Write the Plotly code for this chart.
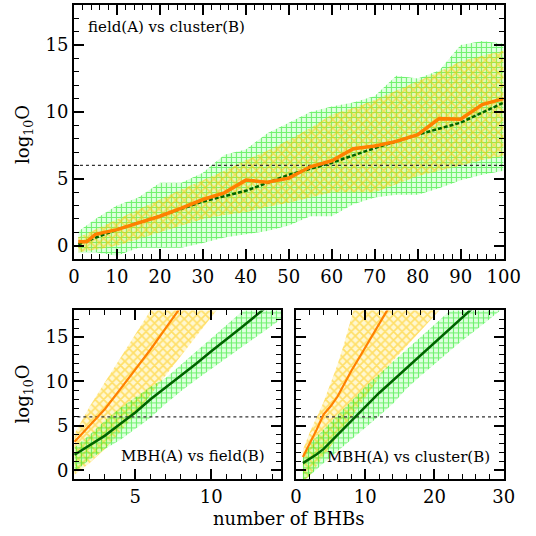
import plotly.graph_objects as go

# ---------------- data ----------------
# Top panel: field(A) vs cluster(B)
top_x = [1, 5, 10, 15, 20, 25, 30, 35, 40, 45, 50, 55, 60, 65, 70, 75, 80, 85, 90, 95, 100]
top_green_hi = [1.05, 2.0, 3.0, 3.6, 4.7, 4.7, 5.45, 6.8, 7.2, 8.4, 9.2, 10.0, 10.4, 10.7, 11.2, 12.7, 12.5, 13.1, 15.0, 15.3, 15.1]
top_green_lo = [-0.5, -0.5, -0.75, -0.15, -0.15, -0.15, 0.2, 0.6, 0.85, 1.1, 1.5, 2.2, 2.2, 3.1, 3.6, 3.8, 3.8, 4.3, 4.9, 5.3, 5.6]
top_yellow_hi = [0.6, 1.2, 2.0, 2.7, 3.5, 4.2, 4.9, 5.6, 6.4, 7.1, 7.9, 8.8, 9.8, 10.3, 10.9, 11.6, 12.3, 13.0, 13.8, 14.2, 14.6]
top_yellow_lo = [-0.5, -0.3, 0.0, 0.5, 1.0, 1.5, 2.0, 2.3, 2.5, 2.9, 3.2, 3.6, 4.0, 4.0, 4.0, 4.6, 5.2, 5.6, 6.0, 6.4, 6.7]
top_orange_x = [1, 3, 5, 10, 15, 20, 25, 30, 35, 40, 45, 50, 55, 60, 65, 70, 75, 80, 85, 90, 95, 100]
top_orange = [0.3, 0.3, 0.85, 1.2, 1.7, 2.2, 2.8, 3.45, 3.95, 4.9, 4.75, 5.05, 5.9, 6.35, 7.25, 7.45, 7.8, 8.3, 9.5, 9.45, 10.55, 11.0]
top_dkgreen_x = [1, 10, 20, 30, 40, 50, 60, 70, 80, 90, 100]
top_dkgreen = [0.1, 1.2, 2.2, 3.3, 4.1, 5.3, 6.2, 7.3, 8.3, 9.2, 10.7]

# Bottom-left: MBH(A) vs field(B)
bl_x = [1, 2, 3, 4, 5, 6, 7, 8, 9, 10, 11, 12, 13, 14, 15]
bl_orange = [3.2, 5.0, 6.9, 9.1, 11.3, 13.6, 16.0, 18.4, 20.8, 23.2, 25.6, 28.0, 30.4, 32.8, 35.2]
bl_yellow_hi = [4.1, 7.2, 9.9, 12.6, 15.2, 18.0, 20.7, 23.4, 26.1, 28.8, 31.5, 34.2, 36.9, 39.6, 42.3]
bl_yellow_lo = [-0.5, 0.8, 2.4, 4.3, 6.3, 8.4, 10.6, 12.8, 15.0, 17.2, 19.4, 21.6, 23.8, 26.0, 28.2]
bl_dkgreen = [1.75, 2.8, 3.9, 5.2, 6.5, 8.0, 9.3, 10.6, 12.0, 13.4, 14.7, 16.1, 17.5, 18.9, 20.3]
bl_green_hi = [2.6, 4.0, 5.6, 7.0, 8.2, 9.4, 10.4, 11.9, 13.4, 14.9, 16.3, 17.8, 19.3, 20.8, 22.3]
bl_green_lo = [-0.2, 1.2, 2.4, 3.4, 4.6, 5.9, 7.5, 8.9, 10.2, 11.5, 12.7, 13.9, 15.1, 16.3, 17.5]

# Bottom-right: MBH(A) vs cluster(B)
br_orange_x = [1, 2, 3, 4, 5, 6, 7, 8, 9, 10, 11, 12, 13, 14]
br_orange = [1.5, 3.0, 4.6, 6.3, 7.2, 8.3, 9.8, 11.2, 12.5, 13.8, 15.2, 16.5, 17.8, 19.1]
br_yellow_hi_x = [1, 2, 3, 4, 5, 6, 7, 8, 9]
br_yellow_hi = [2.3, 4.3, 6.0, 7.7, 9.8, 11.9, 14.4, 17.2, 20.0]
br_yellow_lo_x = [1, 2, 4, 6, 8, 10, 12, 14, 16, 18, 20, 22]
br_yellow_lo = [-1.3, -0.6, 1.7, 3.9, 6.0, 8.2, 10.4, 12.3, 14.0, 15.7, 17.4, 19.1]
br_dkgreen_x = [1, 2, 3, 4, 5, 6, 7, 8, 9, 10, 11, 12, 13, 14, 15, 16, 17, 18, 19, 20, 21, 22, 23, 24, 25, 26]
br_dkgreen = [0.8, 1.3, 1.8, 2.4, 3.2, 4.0, 4.8, 5.6, 6.4, 7.1, 7.9, 8.7, 9.4, 10.1, 10.9, 11.6, 12.3, 13.0, 13.7, 14.4, 15.1, 15.8, 16.5, 17.2, 17.9, 18.6]
br_green_x = [1, 2, 4, 6, 8, 10, 12, 14, 16, 18, 20, 22, 24, 26, 28, 30]
br_green_hi = [1.6, 3.0, 4.6, 6.2, 7.8, 9.4, 10.8, 12.2, 13.6, 15.0, 16.4, 17.8, 19.2, 20.6, 22.0, 23.4]
br_green_lo = [-1.2, -0.6, 0.8, 2.1, 3.4, 4.8, 6.1, 7.5, 9.2, 10.6, 12.0, 13.3, 14.6, 15.8, 17.0, 18.3]

threshold = 6

# ---------------- styles ----------------
GREEN = "#00e600"
GREEN_BG = "rgba(0,255,0,0.12)"
YELLOW = "#ffc800"
YELLOW_BG = "rgba(255,210,0,0.18)"
ORANGE = "#ff8000"
DKGREEN = "#006400"
FONT = "DejaVu Serif"

fig = go.Figure()


def band(x, hi, lo, color, bg, shape, xa, ya, size=5, sol=0.35, xlo=None):
    if xlo is None:
        xlo = x
    fig.add_trace(go.Scatter(
        x=list(x) + list(xlo)[::-1], y=list(hi) + list(lo)[::-1],
        fill="toself", mode="lines", line=dict(width=0, color="rgba(0,0,0,0)"),
        fillcolor="rgba(0,0,0,0)",
        fillpattern=dict(shape=shape, fgcolor=color, bgcolor=bg,
                         size=size, solidity=sol, fillmode="overlay"),
        xaxis=xa, yaxis=ya, hoverinfo="skip", showlegend=False))


def line(x, y, color, width, xa, ya, dash="solid"):
    fig.add_trace(go.Scatter(x=x, y=y, mode="lines", line=dict(color=color, width=width, dash=dash),
                             xaxis=xa, yaxis=ya, showlegend=False))


# top panel
band(top_x, top_green_hi, top_green_lo, GREEN, GREEN_BG, "+", "x", "y", size=5, sol=0.4)
band(top_x, top_yellow_hi, top_yellow_lo, YELLOW, YELLOW_BG, "x", "x", "y", size=6, sol=0.45)
line([0, 100], [threshold, threshold], "#333333", 1.3, "x", "y", dash="dot")
line(top_dkgreen_x, top_dkgreen, DKGREEN, 2.5, "x", "y", dash="4px,2px")
line(top_orange_x, top_orange, ORANGE, 3.5, "x", "y")

# bottom-left
band(bl_x, bl_yellow_hi, bl_yellow_lo, YELLOW, YELLOW_BG, "x", "x2", "y2", size=6, sol=0.5)
band(bl_x, bl_green_hi, bl_green_lo, GREEN, GREEN_BG, "+", "x2", "y2", size=5, sol=0.4)
line([0, 15], [threshold, threshold], "#333333", 1.3, "x2", "y2", dash="dot")
line(bl_x, bl_orange, ORANGE, 2.2, "x2", "y2")
line(bl_x, bl_dkgreen, DKGREEN, 2.5, "x2", "y2")

# bottom-right
band(br_yellow_hi_x, br_yellow_hi, br_yellow_lo, YELLOW, YELLOW_BG, "x", "x3", "y3", size=6, sol=0.5, xlo=br_yellow_lo_x)
band(br_green_x, br_green_hi, br_green_lo, GREEN, GREEN_BG, "+", "x3", "y3", size=5, sol=0.4)
line([0, 30], [threshold, threshold], "#333333", 1.3, "x3", "y3", dash="dot")
line(br_orange_x, br_orange, ORANGE, 2.2, "x3", "y3")
line(br_dkgreen_x, br_dkgreen, DKGREEN, 2.5, "x3", "y3")

W = H = 536


def dom(a, b, total, flip=False):
    if flip:
        return [1 - b / total, 1 - a / total]
    return [a / total, b / total]


common = dict(showline=True, linecolor="black", linewidth=2, mirror="allticks",
              ticks="inside", ticklen=10, tickwidth=1.5, tickcolor="black",
              showgrid=False, zeroline=False,
              tickfont=dict(family=FONT, size=18, color="black"))
minor = lambda d: dict(dtick=d, ticklen=5, ticks="inside", tickcolor="black", tickwidth=1.2)

fig.update_layout(
    width=W, height=H, margin=dict(l=0, r=0, t=0, b=0),
    paper_bgcolor="white", plot_bgcolor="white",
    xaxis=dict(domain=dom(71, 520, W), range=[0, 100], dtick=10, anchor="y", minor=minor(2), **common),
    yaxis=dict(domain=dom(5, 259.5, H, True), range=[-1, 18], dtick=5, anchor="x", minor=minor(1), **common),
    xaxis2=dict(domain=dom(71, 287.5, W), range=[0.96, 14.6], dtick=5, tick0=0, anchor="y2", minor=minor(1), **common),
    yaxis2=dict(domain=dom(311, 480, H, True), range=[-1, 18], dtick=5, anchor="x2", minor=minor(1), **common),
    xaxis3=dict(domain=dom(303, 520, W), range=[0, 30], dtick=10, anchor="y3", minor=minor(2), **common),
    yaxis3=dict(domain=dom(311, 480, H, True), range=[-1, 18], dtick=5, anchor="x3", showticklabels=False,
                minor=minor(1), **common),
)

ann_font = dict(family=FONT, size=15, color="black")
fig.add_annotation(text="field(A) vs cluster(B)", xref="paper", yref="paper",
                   x=84 / W, y=1 - 27 / H, xanchor="left", yanchor="middle", showarrow=False, font=ann_font)
fig.add_annotation(text="MBH(A) vs field(B)", xref="paper", yref="paper",
                   x=118 / W, y=1 - 457 / H, xanchor="left", yanchor="middle", showarrow=False, font=ann_font)
fig.add_annotation(text="MBH(A) vs cluster(B)", xref="paper", yref="paper",
                   x=333 / W, y=1 - 458 / H, xanchor="left", yanchor="middle", showarrow=False, font=ann_font)
fig.add_annotation(text="number of BHBs", xref="paper", yref="paper",
                   x=295 / W, y=1 - 519 / H, xanchor="center", yanchor="middle", showarrow=False,
                   font=dict(family=FONT, size=18, color="black"))
for yc in (135, 395):
    fig.add_annotation(text="log<sub>10</sub>O", xref="paper", yref="paper",
                       x=19 / W, y=1 - yc / H, xanchor="center", yanchor="middle", showarrow=False,
                       textangle=-90, font=dict(family=FONT, size=18, color="black"))

fig.write_html("out.html")
